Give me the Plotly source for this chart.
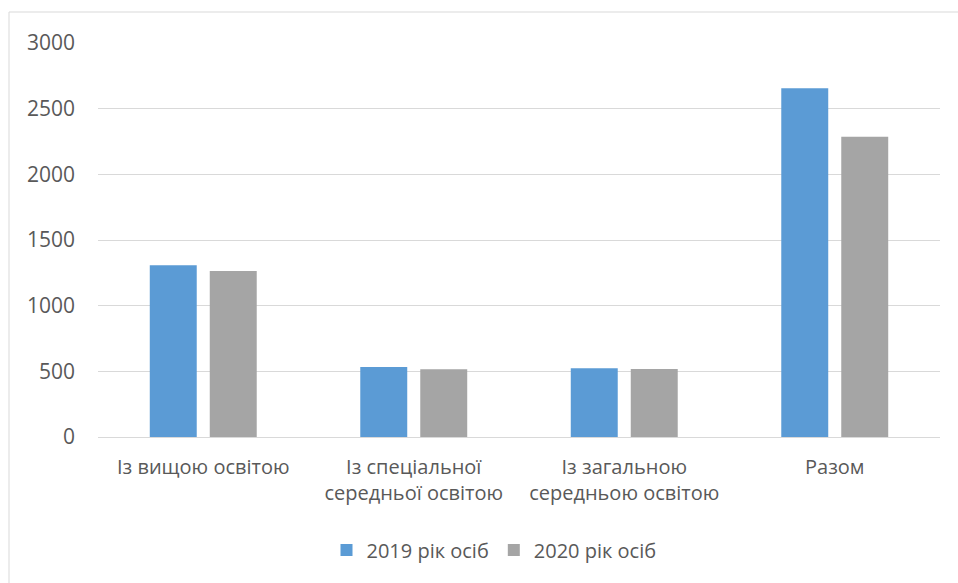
import plotly.graph_objects as go

categories = ["Із вищою освітою", "Із спеціальної<br>середньої освітою",
              "Із загальною<br>середньою освітою", "Разом"]
values_2019 = [1307, 533, 523, 2655]
values_2020 = [1264, 516, 518, 2286]
series_names = ["2019 рік осіб", "2020 рік осіб"]

W, H = 958, 583
L, R, T, B = 98, 18, 43, 146
pw, ph = W - L - R, H - T - B

def px_x(p):
    return (p - L) / pw

def px_y(p):
    return (H - B - p) / ph

fig = go.Figure()
fig.add_trace(go.Bar(x=categories, y=values_2019, name=series_names[0],
                     marker=dict(color="#5B9BD5", line=dict(width=0))))
fig.add_trace(go.Bar(x=categories, y=values_2020, name=series_names[1],
                     marker=dict(color="#A5A5A5", line=dict(width=0))))

font_family = "Open Sans, Noto Sans, sans-serif"
fig.update_layout(
    width=W, height=H,
    margin=dict(l=L, r=R, t=T, b=B, autoexpand=False),
    paper_bgcolor="white", plot_bgcolor="white",
    barmode="group", bargap=0.43, bargroupgap=0.217,
    font=dict(family=font_family, size=20, color="#595959"),
    legend=dict(orientation="h", x=px_x(494), xanchor="center", y=px_y(550), yanchor="middle",
                font=dict(size=20, color="#595959"), itemwidth=30,
                traceorder="normal"),
    xaxis=dict(showgrid=False, showline=False, ticks="", tickfont=dict(size=20),
               automargin=False, ticklabelstandoff=16),
    yaxis=dict(range=[0, 3000], dtick=500, showgrid=True, gridcolor="#D9D9D9",
               gridwidth=1, zeroline=True, zerolinecolor="#D9D9D9", zerolinewidth=1,
               showline=False, ticks="", ticklabelstandoff=22, tickfont=dict(size=21),
               automargin=False),
    shapes=[dict(type="rect", xref="paper", yref="paper",
                 x0=px_x(9), x1=px_x(965), y0=px_y(590), y1=px_y(12),
                 line=dict(color="#D9D9D9", width=1), fillcolor="rgba(0,0,0,0)",
                 layer="below")],
)

fig.write_html("out.html")
